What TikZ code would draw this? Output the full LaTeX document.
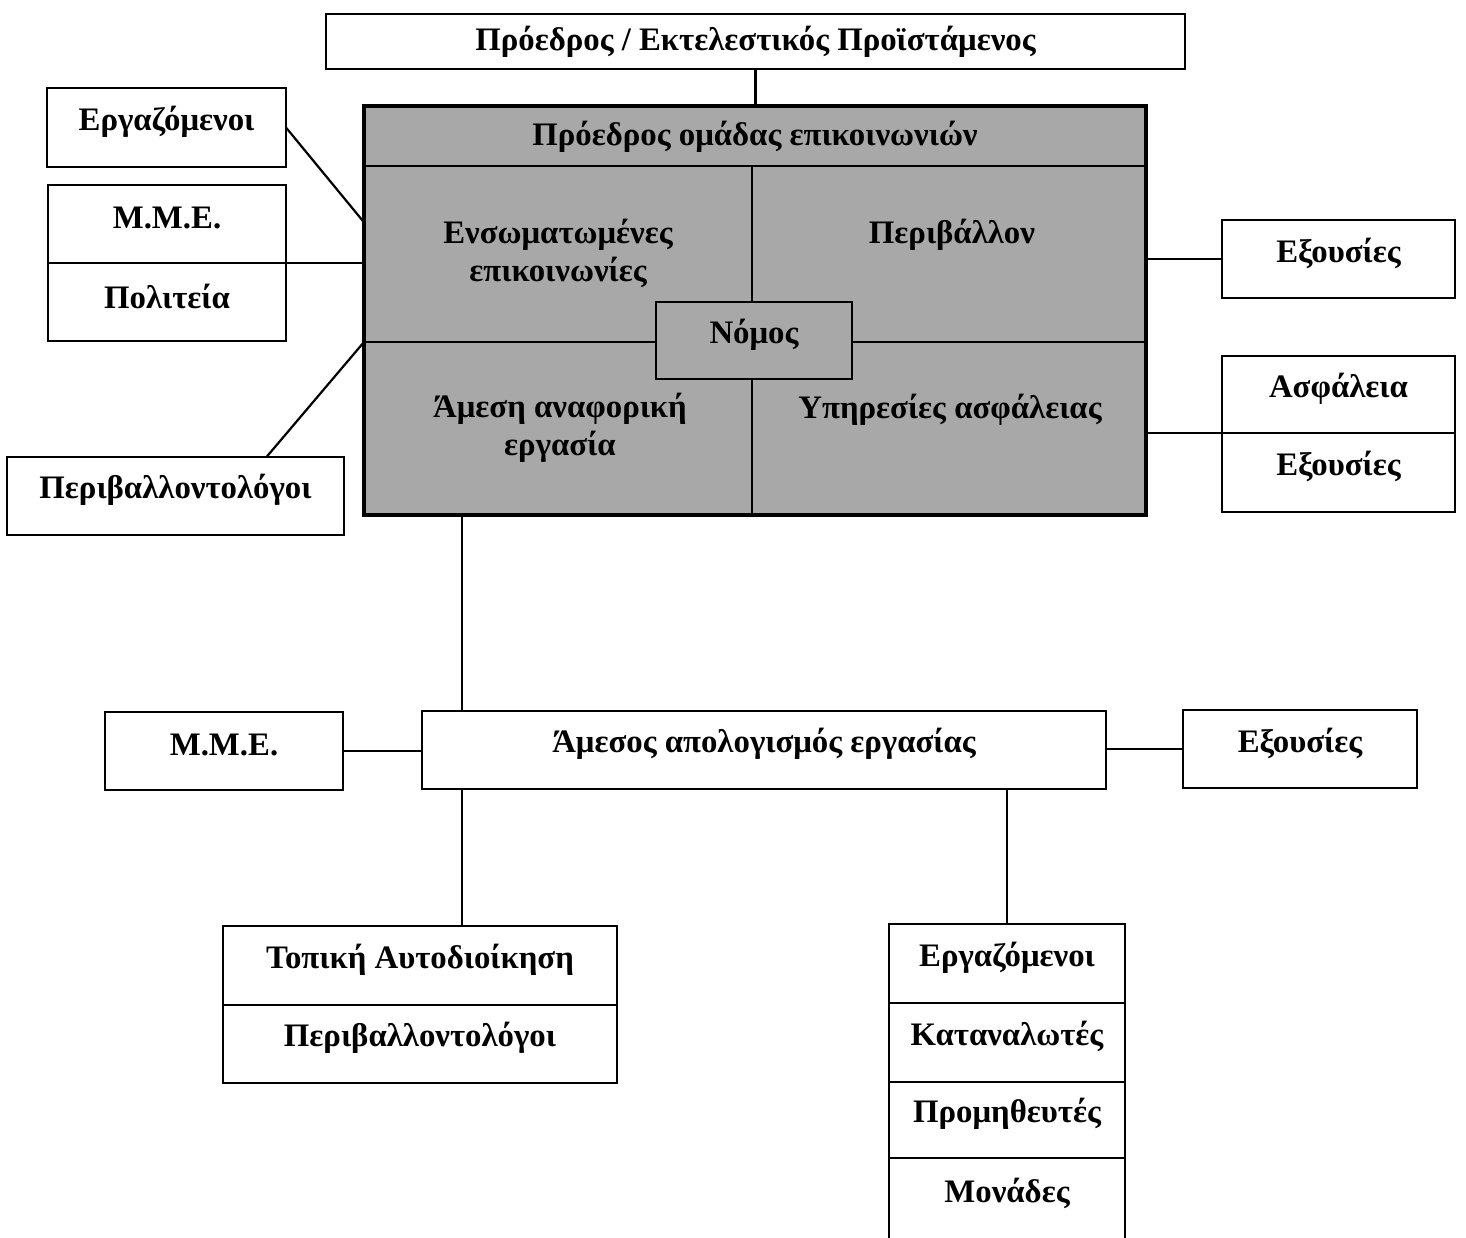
\documentclass[tikz,border=0pt]{standalone}
\usepackage{fontspec}
\setmainfont{Liberation Serif}
\usetikzlibrary{fit,calc}
\definecolor{panelgray}{gray}{0.66}
\begin{document}
\begin{tikzpicture}[x=0.5pt,y=-0.5pt,
  txt/.style={font=\bfseries\fontsize{16.4}{19}\selectfont, align=center},
  lbl/.style={txt, yshift=3pt},
  box/.style={draw, line width=1.3pt, inner sep=0pt, outer sep=0pt},
  conn/.style={line width=1.1pt}]
\useasboundingbox (0,0) rectangle (1466,1237);
\fill[white] (0,0) rectangle (1466,1237);

% top management
\node[box, fit={(326,14) (1185,69)}, label={[txt]center:Πρόεδρος / Εκτελεστικός Προϊστάμενος}] (top) {};

% shaded communications panel
\node[box, fit={(364,106) (1146,515)}, fill=panelgray, line width=1.6pt] (bigbox) {};
\node[box, fit={(364,106) (1146,166)}] (hdr) {};
\node[box, fit={(364,166) (752,342)}] (ens) {};
\node[box, fit={(752,166) (1146,342)}] (per) {};
\node[box, fit={(364,342) (752,515)}] (ame) {};
\node[box, fit={(752,342) (1146,515)}] (yp) {};
\node[box, fit={(656,302) (852,379)}, fill=panelgray, label={[lbl]center:Νόμος}] (nom) {};
\node[txt] (thdr) at (755,137) {Πρόεδρος ομάδας επικοινωνιών};
\node[txt] (tens) at (558,253) {Ενσωματωμένες\\επικοινωνίες};
\node[txt] (tper) at (952,235) {Περιβάλλον};
\node[txt] (tame) at (560,428) {Άμεση αναφορική\\εργασία};
\node[txt] (typ) at (950,410) {Υπηρεσίες ασφάλειας};

% left stakeholders
\node[box, fit={(47,88) (286,167)}, label={[lbl]center:Εργαζόμενοι}] (erg) {};
\node[box, fit={(48,185) (286,263)}, label={[lbl]center:Μ.Μ.Ε.}] (mme) {};
\node[box, fit={(48,263) (286,341)}, label={[lbl]center:Πολιτεία}] (pol) {};
\node[box, fit={(7,457) (344,535)}, label={[lbl]center:Περιβαλλοντολόγοι}] (pl) {};

% right stakeholders
\node[box, fit={(1222,220) (1455,298)}, label={[lbl]center:Εξουσίες}] (exr) {};
\node[box, fit={(1222,356) (1455,433)}, label={[lbl]center:Ασφάλεια}] (asf) {};
\node[box, fit={(1222,433) (1455,512)}, label={[lbl]center:Εξουσίες}] (exr2) {};

% reporting row
\node[box, fit={(422,711) (1106,789)}, label={[lbl]center:Άμεσος απολογισμός εργασίας}] (apo) {};
\node[box, fit={(105,712) (343,790)}, label={[lbl]center:Μ.Μ.Ε.}] (mmeb) {};
\node[box, fit={(1183,710) (1417,788)}, label={[lbl]center:Εξουσίες}] (exb) {};

% lower groups
\node[box, fit={(223,926) (617,1005)}, label={[lbl]center:Τοπική Αυτοδιοίκηση}] (tav) {};
\node[box, fit={(223,1005) (617,1083)}, label={[lbl]center:Περιβαλλοντολόγοι}] (pl2) {};
\node[box, fit={(889,924) (1125,1003)}, label={[lbl]center:Εργαζόμενοι}] (erg2) {};
\node[box, fit={(889,1003) (1125,1082)}, label={[lbl]center:Καταναλωτές}] (kat) {};
\node[box, fit={(889,1082) (1125,1158)}, label={[lbl]center:Προμηθευτές}] (pro) {};
\node[box, fit={(889,1158) (1125,1240)}, draw=none, label={[lbl]center:Μονάδες}] (mon) {};
\draw[line width=1.3pt] (mon.north west) -- ++(0,90);
\draw[line width=1.3pt] (mon.north east) -- ++(0,90);

% connectors
\draw[conn] (top.south) -- (top.south |- bigbox.north);
\draw[conn] (erg.east) -- ($(ens.north west)!0.32!(ens.south west)$);
\draw[conn] (mme.south east) -- (mme.south east -| bigbox.west);
\draw[conn] ($(pl.north west)!0.77!(pl.north east)$) -- (ame.north west);
\draw[conn] (exr.west) -- (exr.west -| bigbox.east);
\draw[conn] (asf.south west) -- (asf.south west -| bigbox.east);
\coordinate (apoleft) at ($(apo.north west)+(40,0)$);
\draw[conn] (apoleft) -- (apoleft |- bigbox.south);
\draw[conn] (mmeb.east) -- (mmeb.east -| apo.west);
\draw[conn] (exb.west) -- (exb.west -| apo.east);
\draw[conn] (apoleft |- apo.south) -- (apoleft |- tav.north);
\draw[conn] (erg2.north) -- (erg2.north |- apo.south);
\end{tikzpicture}
\end{document}
